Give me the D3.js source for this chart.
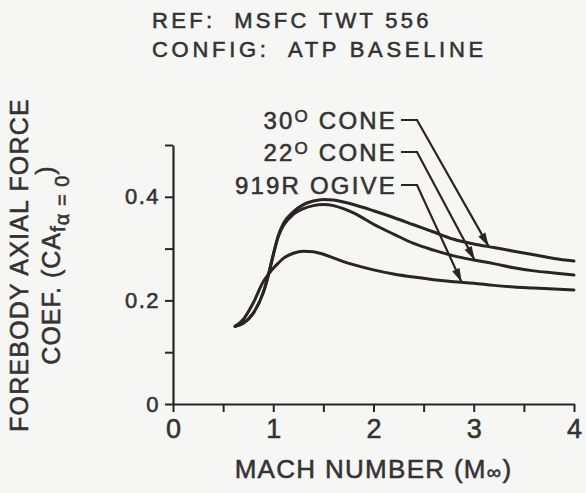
<!DOCTYPE html>
<html>
<head>
<meta charset="utf-8">
<script src="https://cdn.jsdelivr.net/npm/d3@7"></script>
<style>
  body { margin: 0; background: #f6f6f4; }
  text { font-family: "Liberation Sans", Arial, sans-serif; fill: #333; stroke: #333; stroke-width: 0.55px; }
</style>
</head>
<body>
<svg class="chart" width="586" height="493"></svg>
<script>
// data
const titleLines = ["REF:  MSFC TWT 556", "CONFIG:  ATP BASELINE"];
const mach = [0.62, 0.7, 0.8, 0.9, 0.95, 1.0, 1.05, 1.1, 1.2, 1.3, 1.4, 1.5, 1.6, 1.7, 1.8,
              2.0, 2.2, 2.4, 2.6, 2.8, 3.0, 3.2, 3.4, 3.6, 3.8, 4.0];
const cone30 = [0.150, 0.156, 0.175, 0.215, 0.248, 0.288, 0.325, 0.348, 0.371, 0.385, 0.392, 0.395, 0.394, 0.390, 0.385,
                0.373, 0.360, 0.346, 0.332, 0.318, 0.309, 0.302, 0.295, 0.288, 0.281, 0.276];
const cone22 = [0.150, 0.156, 0.175, 0.215, 0.248, 0.288, 0.323, 0.344, 0.366, 0.377, 0.383, 0.385, 0.383, 0.377, 0.369,
                0.347, 0.328, 0.310, 0.297, 0.286, 0.278, 0.271, 0.263, 0.257, 0.253, 0.249];
const ogive = [0.150, 0.163, 0.195, 0.236, 0.250, 0.262, 0.272, 0.281, 0.291, 0.295, 0.294, 0.289, 0.282, 0.275, 0.269,
               0.259, 0.251, 0.245, 0.240, 0.236, 0.233, 0.229, 0.226, 0.224, 0.222, 0.220];
const seriesNames = ["30", "22", "919R OGIVE"];
const arrowMach = [3.15, 3.01, 2.88];   // where each leader arrow touches its curve
const xTicks = [0, 0.5, 1, 1.5, 2, 2.5, 3, 3.5, 4];
const yTicks = [0, 0.1, 0.2, 0.3, 0.4, 0.5];
const yLabelled = [0, 0.2, 0.4];

const ink = "#2b2426";
const svg = d3.select(".chart");

const x = d3.scaleLinear().domain([0, 4]).range([173, 574]);
const y = d3.scaleLinear().domain([0, 0.5]).range([404, 145]);

// title
svg.selectAll(".title")
    .data(titleLines)
    .enter().append("text")
    .attr("x", 152)
    .attr("y", (d, i) => 28 + i * 29)
    .style("font-size", "22px")
    .style("letter-spacing", (d, i) => i ? "3.7px" : "3.3px")
    .attr("xml:space", "preserve")
    .text(d => d);

// axes
const xAxis = svg.append("g")
    .attr("transform", `translate(0,${y(0)})`)
    .call(d3.axisBottom(x).tickValues(xTicks).tickSize(8).tickSizeOuter(0).tickPadding(7)
        .tickFormat(d => Number.isInteger(d) ? d : ""));
const yAxis = svg.append("g")
    .attr("transform", `translate(${x(0)},0)`)
    .call(d3.axisLeft(y).tickValues(yTicks).tickSize(8).tickSizeOuter(0).tickPadding(5)
        .tickFormat(d => yLabelled.some(v => Math.abs(v - d) < 1e-9) ? (d === 0 ? "0" : d3.format(".1f")(d)) : ""));

[xAxis, yAxis].forEach(a => {
    a.select(".domain").attr("stroke", ink).attr("stroke-width", 2.2);
    a.selectAll(".tick line").attr("stroke", ink).attr("stroke-width", 2);
    a.selectAll("text").style("fill", "#333").style("font-family", "Liberation Sans, Arial, sans-serif");
});
xAxis.selectAll("text").style("font-size", "27px");
yAxis.selectAll("text").style("font-size", "22px").style("letter-spacing", "1.5px");

// axis titles
const xTitle = svg.append("text")
    .attr("x", x(2))
    .attr("y", 478)
    .attr("text-anchor", "middle")
    .style("font-size", "26px")
    .style("letter-spacing", "1.3px");
xTitle.append("tspan").text("MACH NUMBER (M");
xTitle.append("tspan").style("font-size", "20px").attr("dy", 1).text("\u221E");
xTitle.append("tspan").attr("dy", -1).text(")");

const yTitle = svg.append("g").attr("transform", "translate(28,265) rotate(-90)");
yTitle.append("text")
    .attr("text-anchor", "middle")
    .style("font-size", "25px")
    .style("letter-spacing", "1.2px")
    .text("FOREBODY AXIAL FORCE");
const coef = yTitle.append("text")
    .attr("y", 32)
    .attr("text-anchor", "middle")
    .style("font-size", "25px")
    .style("letter-spacing", "1px");
coef.append("tspan").text("COEF. (CA");
coef.append("tspan").attr("dy", 5).style("font-size", "21px").text("f");
coef.append("tspan").attr("dy", 4).style("font-size", "20px").text("\u03B1 = 0");
coef.append("tspan").attr("dy", -15).text(")");

// curves
const series = [cone30, cone22, ogive];
const line = d3.line()
    .x(d => x(d[0]))
    .y(d => y(d[1]))
    .curve(d3.curveMonotoneX);

svg.selectAll(".curve")
    .data(series)
    .enter().append("path")
    .attr("class", "curve")
    .attr("d", s => line(mach.map((m, i) => [m, s[i]])))
    .attr("fill", "none")
    .attr("stroke", ink)
    .attr("stroke-width", 3)
    .attr("stroke-linecap", "round");

// labels with leader arrows
const labelEndX = 397;
const labelBase = [129, 161, 194];
const interp = (s, m) => {
    const j = d3.bisectRight(mach, m);
    const t = (m - mach[j - 1]) / (mach[j] - mach[j - 1]);
    return s[j - 1] + t * (s[j] - s[j - 1]);
};

seriesNames.forEach((name, i) => {
    const lbl = svg.append("text")
        .attr("x", labelEndX)
        .attr("y", labelBase[i])
        .attr("text-anchor", "end")
        .style("font-size", "24px")
        .style("letter-spacing", "2.2px");
    if (i < 2) {
        lbl.append("tspan").text(name);
        lbl.append("tspan").attr("dy", -7).style("font-size", "17px").text("O");
        lbl.append("tspan").attr("dy", 7).text(" CONE");
    } else {
        lbl.text(name);
    }

    const midY = labelBase[i] - 9;
    const tipX = x(arrowMach[i]);
    const tipY = y(interp(series[i], arrowMach[i]));
    const elbowX = labelEndX + 20;

    svg.append("path")
        .attr("d", `M${labelEndX + 4},${midY} L${elbowX},${midY} L${tipX},${tipY}`)
        .attr("fill", "none")
        .attr("stroke", ink)
        .attr("stroke-width", 2.2);

    // arrowhead
    const ang = Math.atan2(tipY - midY, tipX - elbowX);
    const len = 14, half = 4;
    const bx = tipX - len * Math.cos(ang), by = tipY - len * Math.sin(ang);
    const px = -Math.sin(ang) * half, py = Math.cos(ang) * half;
    svg.append("path")
        .attr("d", `M${tipX},${tipY} L${bx + px},${by + py} L${bx - px},${by - py} Z`)
        .attr("fill", ink);
});
</script>
</body>
</html>
